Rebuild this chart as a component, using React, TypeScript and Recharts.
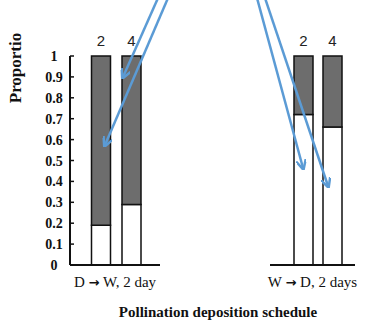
import { BarChart, Bar, XAxis, YAxis, LabelList, Label } from 'recharts';

// values (proportions, stacked white bottom / grey top)
const intervals = ['2', '4'];
const dryToWetLow = [0.19, 0.29];
const dryToWetHigh = [0.81, 0.71];
const wetToDryLow = [0.72, 0.66];
const wetToDryHigh = [0.28, 0.34];
const yTicks = [0, 0.1, 0.2, 0.3, 0.4, 0.5, 0.6, 0.7, 0.8, 0.9, 1];
const panelLabels = [
  ['D', 'W, 2 day'],
  ['W', 'D, 2 days'],
];

const leftData = intervals.map((n, i) => ({ n, low: dryToWetLow[i], high: dryToWetHigh[i] }));
const rightData = intervals.map((n, i) => ({ n, low: wetToDryLow[i], high: wetToDryHigh[i] }));

const serif = '"Liberation Serif", "Times New Roman", serif';
const sans = '"Liberation Sans", Arial, sans-serif';
const grey = '#6d6d6d';

const YTick = (props: any) => {
  const { x, y, payload } = props;
  return (
    <text
      x={x}
      y={y}
      dy={5}
      textAnchor="middle"
      style={{ fontFamily: serif, fontWeight: 700, fontSize: 14, fill: '#111' }}
    >
      {payload.value}
    </text>
  );
};

// "D → W, 2 day" with the heavy arrow of the original
const ScheduleLabel = (props: any) => {
  const { viewBox, parts } = props;
  const cx = viewBox.x + viewBox.width / 2;
  const y = viewBox.y + 22;
  return (
    <text x={cx} y={y} textAnchor="middle" style={{ fontFamily: serif, fontSize: 15, fill: '#111' }}>
      {parts[0] + ' '}
      <tspan style={{ fontFamily: '"DejaVu Sans", sans-serif', fontWeight: 700, fontSize: 13 }}>→</tspan>
      {' ' + parts[1]}
    </text>
  );
};

function Panel({ data, parts, showY, width, marginLeft, padding }: any) {
  return (
    <BarChart
      width={width}
      height={328}
      data={data}
      margin={{ top: 56, right: 10, bottom: 33, left: marginLeft }}
      barSize={19}
    >
      <XAxis
        dataKey="n"
        tick={false}
        tickLine={false}
        axisLine={{ stroke: '#111', strokeWidth: 2 }}
        padding={padding}
        height={30}
      >
        <Label content={<ScheduleLabel parts={parts} />} />
      </XAxis>
      <YAxis
        hide={!showY}
        domain={[0, 1]}
        ticks={yTicks}
        interval={0}
        width={70}
        tickSize={-4}
        tickMargin={20}
        tick={<YTick />}
        tickLine={{ stroke: '#111', strokeWidth: 1.5 }}
        axisLine={{ stroke: '#111', strokeWidth: 2 }}
      />
      <Bar dataKey="low" stackId="a" fill="#fff" stroke="#111" strokeWidth={1.5} isAnimationActive={false} />
      <Bar dataKey="high" stackId="a" fill={grey} stroke="#111" strokeWidth={1.5} isAnimationActive={false}>
        <LabelList dataKey="n" position="top" offset={10} style={{ fontFamily: sans, fontSize: 15, fill: '#222' }} />
      </Bar>
    </BarChart>
  );
}

export default function App() {
  return (
    <div style={{ position: 'absolute', left: 0, top: 0, width: 365, height: 328, background: '#fff' }}>
      <div style={{ position: 'absolute', left: 0, top: 0 }}>
        <Panel data={leftData} parts={panelLabels[0]} showY width={170} marginLeft={0} padding={{ left: 15.5, right: 13.5 }} />
      </div>
      <div style={{ position: 'absolute', left: 200, top: 0 }}>
        <Panel data={rightData} parts={panelLabels[1]} showY={false} width={165} marginLeft={70} padding={{ left: 19, right: 8 }} />
      </div>
      <svg width={365} height={328} style={{ position: 'absolute', left: 0, top: 0, pointerEvents: 'none' }}>
        <text
          transform="translate(21, 68) rotate(-90)"
          textAnchor="middle"
          style={{ fontFamily: serif, fontWeight: 700, fontSize: 17, fill: '#111' }}
        >
          Proportio
        </text>
        <text
          x={218}
          y={317}
          textAnchor="middle"
          style={{ fontFamily: serif, fontWeight: 700, fontSize: 15, fill: '#111' }}
        >
          Pollination deposition schedule
        </text>
        {/* blue annotation arrows overlaid on the figure */}
        <defs>
          <marker id="head" viewBox="0 0 10 10" refX="8" refY="5" markerWidth="4" markerHeight="4" orient="auto">
            <path d="M0,0 L10,5 L0,10" fill="none" stroke="#5b9bd5" strokeWidth="2.5" />
          </marker>
        </defs>
        <g stroke="#5b9bd5" strokeWidth={2.5} fill="none" markerEnd="url(#head)">
          <line x1={158} y1={-2} x2={123} y2={77} />
          <line x1={168} y1={-2} x2={105} y2={145} />
          <line x1={257} y1={-2} x2={303} y2={168} />
          <line x1={265} y1={-2} x2={328} y2={186} />
        </g>
      </svg>
    </div>
  );
}
